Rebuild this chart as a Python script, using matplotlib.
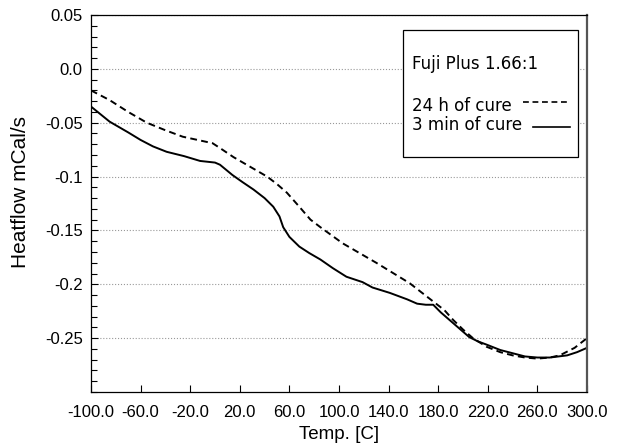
import matplotlib
matplotlib.use("Agg")
import matplotlib.pyplot as plt
from matplotlib.patches import Rectangle
from matplotlib.lines import Line2D
from matplotlib.ticker import FixedLocator, MultipleLocator

# 24 h of cure (dashed)
temp_24h = [-100, -85, -70, -55, -40, -26, -10, -2, 4, 15, 30, 42, 50, 58, 68,
            77, 85, 103, 130, 157, 176, 185, 192, 200, 208, 219, 230, 240, 250,
            260, 270, 278, 290, 300]
heat_24h = [-0.020, -0.029, -0.040, -0.050, -0.057, -0.063, -0.067, -0.069,
            -0.0735, -0.082, -0.092, -0.100, -0.107, -0.115, -0.128, -0.140,
            -0.147, -0.162, -0.180, -0.199, -0.216, -0.224, -0.233, -0.242,
            -0.250, -0.258, -0.263, -0.266, -0.268, -0.269, -0.268, -0.266,
            -0.259, -0.250]

# 3 min of cure (solid)
temp_3min = [-100, -85, -70, -60, -50, -39, -25, -12, 0, 4, 14, 22, 31, 40, 47,
             52, 55, 60, 68, 76, 85, 95, 106, 119, 127, 141, 155, 163, 170, 176,
             182, 189, 197, 205, 212, 219, 230, 240, 250, 260, 270, 284, 292, 300]
heat_3min = [-0.035, -0.049, -0.059, -0.066, -0.072, -0.077, -0.081, -0.0855,
             -0.087, -0.089, -0.0985, -0.105, -0.112, -0.120, -0.128, -0.137,
             -0.147, -0.156, -0.165, -0.171, -0.177, -0.185, -0.193, -0.198,
             -0.203, -0.208, -0.214, -0.218, -0.219, -0.219, -0.226, -0.233,
             -0.241, -0.249, -0.253, -0.256, -0.261, -0.264, -0.267, -0.268,
             -0.268, -0.266, -0.263, -0.259]

x_ticks = [-100, -60, -20, 20, 60, 100, 140, 180, 220, 260, 300]
y_ticks = [0.05, 0.0, -0.05, -0.1, -0.15, -0.2, -0.25]
y_tick_labels = ["0.05", "0.0", "-0.05", "-0.1", "-0.15", "-0.2", "-0.25"]

plt.rcParams['font.family'] = ['Liberation Sans', 'DejaVu Sans']

fig = plt.figure(figsize=(6.22, 4.48), dpi=100)
ax = fig.add_axes([91 / 622, 1 - 392 / 448, 496 / 622, 377 / 448])

ax.plot(temp_24h, heat_24h, color='black', lw=1.4, linestyle=(0, (3.5, 2.2)))
ax.plot(temp_3min, heat_3min, color='black', lw=1.4)

ax.set_xlim(-100, 300)
ax.set_ylim(-0.30, 0.05)

ax.xaxis.set_major_locator(FixedLocator(x_ticks))
ax.set_xticklabels([f"{v:.1f}" for v in x_ticks])
ax.yaxis.set_major_locator(FixedLocator(y_ticks))
ax.set_yticklabels(y_tick_labels)
ax.yaxis.set_minor_locator(MultipleLocator(0.01))

ax.tick_params(axis='both', which='major', direction='in', length=5,
               width=0.8, labelsize=12)
ax.tick_params(axis='x', which='major', pad=9)
ax.tick_params(axis='y', which='major', pad=6)
ax.tick_params(axis='y', which='minor', direction='in', length=4, width=0.8)
ax.tick_params(axis='x', which='minor', bottom=False)

ax.yaxis.grid(True, linestyle=':', color='#999999', lw=0.8)
ax.set_axisbelow(True)

for side in ['left', 'bottom', 'top']:
    ax.spines[side].set_linewidth(0.9)
ax.spines['right'].set_linewidth(1.6)
ax.spines['right'].set_color('#555555')

ax.set_xlabel('Temp. [C]', fontsize=13.5, labelpad=5)
ax.set_ylabel('Heatflow mCal/s', fontsize=15)
ax.yaxis.set_label_coords(-0.122, 0.53)

# legend box drawn by hand to match the layout
ax.add_patch(Rectangle((0.629, 0.623), 0.353, 0.337, transform=ax.transAxes,
                       facecolor='white', edgecolor='black', lw=0.9, zorder=5))
leg_font = dict(family='DejaVu Sans', fontsize=12, zorder=6,
                transform=ax.transAxes, va='baseline')
ax.text(0.647, 0.857, 'Fuji Plus 1.66:1', **leg_font)
ax.text(0.647, 0.745, '24 h of cure', **leg_font)
ax.text(0.647, 0.695, '3 min of cure', **leg_font)
ax.add_line(Line2D([0.871, 0.966], [0.769, 0.769], transform=ax.transAxes,
                   color='black', lw=1.2, linestyle=(0, (3.5, 2.2)), zorder=6))
ax.add_line(Line2D([0.891, 0.966], [0.703, 0.703], transform=ax.transAxes,
                   color='black', lw=1.2, zorder=6))

fig.savefig('out.png', dpi=100)
